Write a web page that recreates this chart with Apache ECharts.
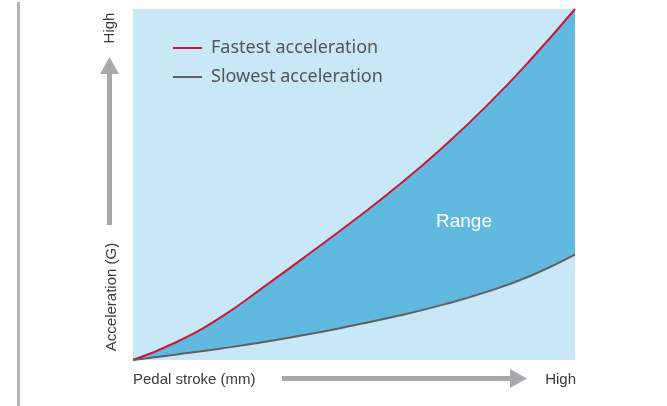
<!DOCTYPE html>
<html>
<head>
<meta charset="utf-8">
<script src="https://cdn.jsdelivr.net/npm/echarts@6/dist/echarts.min.js"></script>
<style>
html, body { margin: 0; padding: 0; background: #fff; }
#chart { width: 667px; height: 406px; }
</style>
</head>
<body>
<div id="chart"></div>
<script>
// pedal stroke (0 = start, 100 = high)
var stroke = [0, 10, 20, 30, 40, 50, 60, 70, 80, 90, 100];
// acceleration, relative units
var fastest = [0, 5.2, 12.3, 21.2, 30.4, 39.8, 49.7, 60.5, 72.4, 85.6, 100];
var slowest = [0, 1.6, 3.3, 5.2, 7.4, 9.9, 12.6, 15.7, 19.4, 24.0, 30];

var fastData = [], slowData = [];
for (var i = 0; i < stroke.length; i++) {
	fastData.push([stroke[i], fastest[i]]);
	slowData.push([stroke[i], slowest[i]]);
}

var bgBlue = '#c8e7f7';
var myChart = echarts.init(document.getElementById("chart"));
var font = "Liberation Sans, Arial, sans-serif";
myChart.setOption({
	animation: false,
	grid: {
		left: 133,
		right: 92,
		top: 9,
		bottom: 46,
		show: true,
		backgroundColor: bgBlue,
		borderWidth: 0
	},
	xAxis: { type: 'value', min: 0, max: 100, show: false },
	yAxis: { type: 'value', min: 0, max: 100, show: false },
	legend: {
		orient: 'vertical',
		left: 168,
		top: 34,
		itemGap: 11,
		itemWidth: 29,
		itemHeight: 2,
		icon: 'rect',
		data: ['Fastest acceleration', 'Slowest acceleration'],
		textStyle: { color: '#555', fontSize: 18, fontFamily: 'Noto Sans, sans-serif', padding: [0, 0, 0, 4] }
	},
	series: [{
		// area under the fast curve = range colour
		name: 'Fastest acceleration',
		type: 'line',
		data: fastData,
		smooth: true,
		showSymbol: false,
		color: '#c8193a',
		lineStyle: { color: '#c8193a', width: 2 },
		areaStyle: { color: '#62b9df', opacity: 1 },
		z: 2
	}, {
		// area under the slow curve painted back to background
		name: 'Slowest acceleration',
		type: 'line',
		data: slowData,
		smooth: true,
		showSymbol: false,
		color: '#5f6164',
		lineStyle: { color: '#5f6164', width: 2 },
		areaStyle: { color: bgBlue, opacity: 1 },
		z: 3
	}],
	graphic: [
		// left border line
		{ type: 'rect', shape: { x: 17, y: 2, width: 3, height: 404 }, style: { fill: '#b6b6b8' } },
		// y arrow
		{ type: 'rect', shape: { x: 107, y: 72, width: 5, height: 153 }, style: { fill: '#a7a9ac' } },
		{ type: 'polygon', shape: { points: [[109.5, 57], [100, 74], [119, 74]] }, style: { fill: '#a7a9ac' } },
		// x arrow
		{ type: 'rect', shape: { x: 282, y: 376, width: 230, height: 5 }, style: { fill: '#a7a9ac' } },
		{ type: 'polygon', shape: { points: [[527, 378.5], [510, 369], [510, 388]] }, style: { fill: '#a7a9ac' } },
		// axis texts
		{ type: 'text', x: 110, y: 28, rotation: Math.PI / 2,
			style: { text: 'High', fill: '#3a3a3a', font: '15px ' + font, align: 'center', verticalAlign: 'middle' } },
		{ type: 'text', x: 112, y: 297, rotation: Math.PI / 2,
			style: { text: 'Acceleration (G)', fill: '#3a3a3a', font: '15px ' + font, align: 'center', verticalAlign: 'middle' } },
		{ type: 'text', x: 133, y: 380,
			style: { text: 'Pedal stroke (mm)', fill: '#3a3a3a', font: '15px ' + font, align: 'left', verticalAlign: 'middle' } },
		{ type: 'text', x: 576, y: 380,
			style: { text: 'High', fill: '#3a3a3a', font: '15px ' + font, align: 'right', verticalAlign: 'middle' } },
		{ type: 'text', x: 464, y: 222, z: 10,
			style: { text: 'Range', fill: '#fff', font: '19px ' + font, align: 'center', verticalAlign: 'middle' } }
	]
});
</script>
</body>
</html>
